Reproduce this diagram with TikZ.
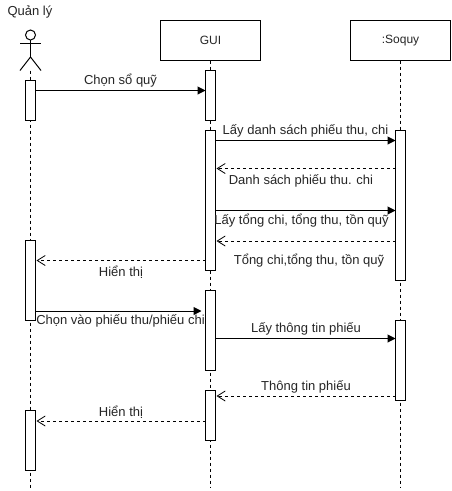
\documentclass[tikz,border=0pt]{standalone}
\usepackage{fontspec}
\setmainfont{Liberation Sans}
\usetikzlibrary{
  arrows.meta
}
\tikzset{
  % For the boxes at the top of a lifeline.
  object/.style={
    draw,
    fill=white,
    line width=1pt,
    minimum width=100pt,
    minimum height=40pt,
    inner sep=0pt,
    outer sep=0pt},
%
  % For the thin boxes on a lifeline.
  activation/.style={
    draw,
    fill=white,
    line width=1pt,
    minimum width=10pt,
    inner sep=0pt,
    outer sep=0pt},
%
  % For lifelines.
  lifeline/.style={
    line width=0.8pt,
    dash pattern=on 3pt off 3pt},
%
  % For calls, with a filled tip.
  call/.style={
    line width=1pt,
    -{Triangle[length=8pt,width=8pt]}},
%
  % For replies, dashed with an open tip.
  reply/.style={
    line width=0.8pt,
    dash pattern=on 3pt off 3pt,
    shorten >=1pt,
    -{Straight Barb[length=8pt,width=10pt,line width=0.8pt]}},
%
  % For texts.
  caption/.style={
    font={\fontsize{13pt}{15pt}\selectfont},
    text=black!85,
    inner sep=0pt},
%
  % For the names in the boxes.
  boxname/.style={
    font={\fontsize{12pt}{14pt}\selectfont},
    text=black!85,
    inner sep=0pt}
}

\begin{document}
\begin{tikzpicture}[x=1pt,y=-1pt]
  \useasboundingbox (0,0) rectangle (451,491);
  \fill[white] (0,0) rectangle (451,491);

  % Actor.
  \node[circle,draw,line width=1pt,minimum size=10pt,inner sep=0pt,outer sep=0pt]
    (head) at (30.5,35) {};
  \coordinate (hip) at (30.5,57);
  \coordinate (armL) at (20,43.5);
  \coordinate (armR) at (41,43.5);
  \coordinate (footL) at (20,70.5);
  \coordinate (footR) at (41,70.5);
  \coordinate (feet) at (30.5,70.5);
  \draw[line width=1pt] (head.south) -- (hip);
  \draw[line width=1pt] (armL) -- (armR);
  \draw[line width=1pt] (footL) -- (hip) -- (footR);
  \node[caption] (actorName) at (30,12) {Quản lý};

  \node[object] (gui) at (210.5,40.5) {};
  \node[object] (soquy) at (400.5,40.5) {};
  \node[boxname] (guiName) at (gui.center) {GUI};
  \node[boxname] (soquyName) at (soquy.center) {:Soquy};

  % Lifelines, under the activations.
  \coordinate (endA) at (30.5,488);
  \coordinate (endG) at (210.5,488);
  \coordinate (endS) at (400.5,488);
  \draw[lifeline] (feet) -- (endA);
  \draw[lifeline] (gui.south) -- (endG);
  \draw[lifeline] (soquy.south) -- (endS);

  \foreach \name/\x/\yA/\yB in {
      actA/30.5/80.5/120.5,
      actB/30.5/240.5/320.5,
      actC/30.5/410.5/470.5,
      guiA/210.5/70.5/120.5,
      guiB/210.5/130.5/270.5,
      guiC/210.5/290.5/370.5,
      guiD/210.5/390.5/440.5,
      soqA/400.5/130.5/280.5,
      soqB/400.5/320.5/400.5}
    {\node[activation,minimum height={(\yB-\yA)*1pt}] (\name) at (\x,{(\yA+\yB)/2}) {};}

  % Heights of the messages.
  \foreach \name/\y in {
      rowA/90.5, rowB/140.5, rowC/168.5, rowD/210.5, rowE/241,
      rowF/260.5, rowG/311, rowH/338.5, rowI/396, rowJ/421}
    {\coordinate (\name) at (0,\y);}

  \draw[call] (actA.east |- rowA) -- (guiA.west |- rowA);
  \draw[call] (guiB.east |- rowB) -- (soqA.west |- rowB);
  \draw[reply] (soqA.west |- rowC) -- (guiB.east |- rowC);
  \draw[call] (guiB.east |- rowD) -- (soqA.west |- rowD);
  \draw[reply] (soqA.west |- rowE) -- (guiB.east |- rowE);
  \draw[reply] (guiB.west |- rowF) -- (actB.east |- rowF);
  \draw[call,shorten >=4pt] (actB.east |- rowG) -- (guiC.west |- rowG);
  \draw[call] (guiC.east |- rowH) -- (soqB.west |- rowH);
  \draw[reply] (soqB.west |- rowI) -- (guiD.east |- rowI);
  \draw[reply] (guiD.west |- rowJ) -- (actC.east |- rowJ);

  \node[caption] (msgA) at (120.5,81) {Chọn sổ quỹ};
  \node[caption] (msgB) at (305.5,131) {Lấy danh sách phiếu thu, chi};
  \node[caption] (msgC) at (301,181) {Danh sách phiếu thu. chi};
  \node[caption] (msgD) at (301.5,221) {Lấy tổng chi, tổng thu, tồn quỹ};
  \node[caption] (msgE) at (309,261) {Tổng chi,tổng thu, tồn quỹ};
  \node[caption] (msgF) at (121,272) {Hiển thị};
  \node[caption] (msgG) at (120.5,321) {Chọn vào phiếu thu/phiếu chi};
  \node[caption] (msgH) at (306,329) {Lấy thông tin phiếu};
  \node[caption] (msgI) at (306,387) {Thông tin phiếu};
  \node[caption] (msgJ) at (121,412) {Hiển thị};
\end{tikzpicture}
\end{document}
